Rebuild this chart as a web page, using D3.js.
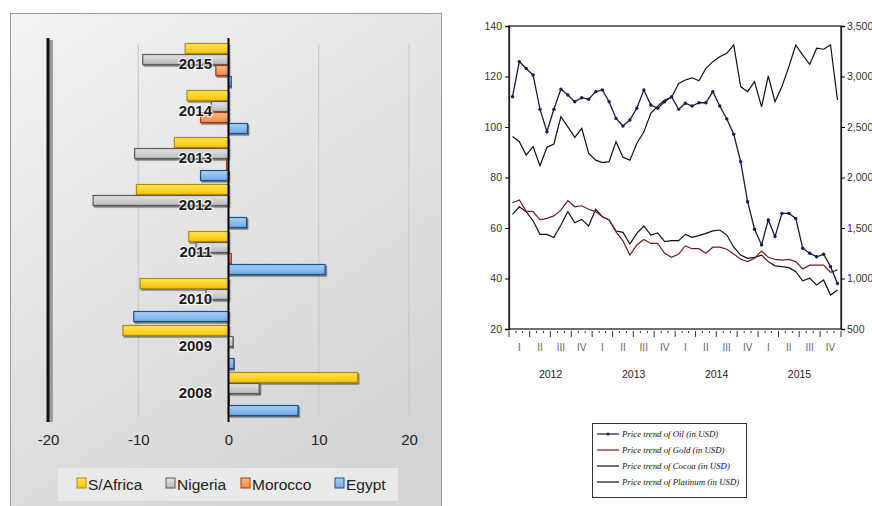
<!DOCTYPE html>
<html><head><meta charset="utf-8">
<script src="https://cdn.jsdelivr.net/npm/d3@7"></script>
<style>
body{margin:0;background:#fff;}
svg{display:block;}
</style></head>
<body><svg id="c" width="872" height="506"></svg>
<script>
// ---- GDP growth by country (left panel) ----
const years = ["2015","2014","2013","2012","2011","2010","2009","2008"];
const countries = ["S/Africa","Nigeria","Morocco","Egypt"];
const sAfrica = [-4.8,-4.6,-6.0,-10.2,-4.4,-9.8,-11.7,14.3];
const nigeria = [-9.5,-1.9,-10.4,-15.0,-3.6,-2.5,0.5,3.4];
const morocco = [-1.4,-3.1,-0.2,0,0.3,0,0,0.1];
const egypt   = [0.3,2.1,-3.1,2.0,10.7,-10.5,0.6,7.7];
const growthTicks = [-20,-10,0,10,20];

// ---- Commodity prices, monthly Jan 2012 - Dec 2015 (right panel) ----
const oil = [112,125.9,123.2,120.6,107,98.1,107,115,112.7,110,111.6,111,
  114,114.7,110,103.4,100.4,102.8,107.4,114.7,108.7,107.4,110,112,
  107,109.4,108.3,109.6,109.6,114,108.3,103.2,97.1,86.3,70.4,59.5,
  53.3,63.2,56.6,65.8,65.8,63.8,52,50,48.6,49.6,44.7,38];
const gold = [1750,1777,1667,1662,1580,1595,1620,1677,1770,1710,1720,1685,
  1662,1612,1580,1462,1372,1232,1332,1387,1347,1347,1250,1210,
  1242,1322,1295,1295,1250,1310,1310,1290,1242,1190,1167,1200,
  1272,1210,1190,1182,1190,1167,1095,1132,1132,1132,1062,1085];
const cocoa = [2405,2355,2222,2305,2117,2300,2332,2602,2502,2397,2487,2240,
  2172,2147,2157,2355,2200,2172,2337,2452,2635,2707,2767,2795,
  2932,2965,2987,2957,3080,3147,3195,3230,3312,2900,2850,2950,
  2700,3005,2750,2900,3097,3312,3212,3120,3280,3270,3312,2767];
const platinum = [1635,1710,1662,1572,1437,1437,1405,1530,1662,1552,1585,1520,
  1685,1612,1580,1470,1457,1342,1447,1520,1430,1452,1365,1375,
  1375,1437,1407,1425,1447,1472,1480,1430,1310,1232,1200,1210,
  1232,1167,1125,1117,1107,1067,977,1002,935,985,837,887];
const leftTicks = [20,40,60,80,100,120,140];
const rightTicks = [500,1000,1500,2000,2500,3000,3500];
const quarterLabels = ["I","II","III","IV"];
const priceYears = [2012,2013,2014,2015];
const legendLabels = ["Price trend of Oil (in USD)","Price trend of Gold (in USD)",
  "Price trend of Cocoa (in USD)","Price trend of Platinum (in USD)"];

const svg = d3.select("#c");
const defs = svg.append("defs");

// ================= left panel =================
const bg = defs.append("linearGradient").attr("id","bg")
  .attr("x1","0").attr("y1","0").attr("x2","0.6").attr("y2","1");
bg.append("stop").attr("offset","0").attr("stop-color","#f3f3f3");
bg.append("stop").attr("offset","1").attr("stop-color","#d4d4d4");

const sh = defs.append("filter").attr("id","sh").attr("x","-10%").attr("y","-30%").attr("width","130%").attr("height","180%");
sh.append("feDropShadow").attr("dx",1.2).attr("dy",1.5).attr("stdDeviation",0.6)
  .attr("flood-color","#000").attr("flood-opacity",0.55);

const barColors = [
  {fill0:"#ffe75a", fill1:"#f5c400", stroke:"#b38b00"},
  {fill0:"#e4e4e4", fill1:"#b9b9b9", stroke:"#5a5a5a"},
  {fill0:"#fbbb8a", fill1:"#ef8a43", stroke:"#a33a12"},
  {fill0:"#a9d2f6", fill1:"#6ea9e3", stroke:"#1f4f96"}
];
barColors.forEach((c,i)=>{
  const g = defs.append("linearGradient").attr("id","bar"+i).attr("x1",0).attr("y1",0).attr("x2",0).attr("y2",1);
  g.append("stop").attr("offset","0").attr("stop-color",c.fill0);
  g.append("stop").attr("offset","1").attr("stop-color",c.fill1);
});

const L = svg.append("g");
L.append("rect").attr("x",10.5).attr("y",13.5).attr("width",431).attr("height",500)
  .attr("fill","url(#bg)").attr("stroke","#9a9a9a").attr("stroke-width",1);

const gx = d3.scaleLinear().domain([-20,20]).range([48,409]);
const gy = d3.scaleBand().domain(years).range([41.5,417.5]).paddingInner(0.064).paddingOuter(0.032);
const gsub = d3.scaleBand().domain(countries).range([0, gy.bandwidth()]);
const plotTop = 38, plotBot = 422;

// gridlines
L.append("g").selectAll("line").data(growthTicks.filter(d=>d!==0 && d!==-20)).join("line")
  .attr("x1",d=>gx(d)).attr("x2",d=>gx(d)).attr("y1",44).attr("y2",416)
  .attr("stroke","#c4c4c4").attr("stroke-width",1);

// heavy left edge at -20
L.append("rect").attr("x",gx(-20)+1).attr("y",plotTop+2).attr("width",4).attr("height",plotBot-plotTop-2).attr("fill","#9c9c9c");
L.append("rect").attr("x",gx(-20)-1.5).attr("y",plotTop).attr("width",3).attr("height",plotBot-plotTop).attr("fill","#111");

const series = [sAfrica, nigeria, morocco, egypt];
const bars = L.append("g");
series.forEach((vals,si)=>{
  bars.append("g").selectAll("rect").data(vals).join("rect")
    .attr("x",d=>Math.min(gx(0),gx(d)))
    .attr("width",d=>Math.abs(gx(d)-gx(0)))
    .attr("y",(d,i)=>gy(years[i])+gsub(countries[si])+0.5)
    .attr("height",gsub.bandwidth()-1)
    .attr("fill","url(#bar"+si+")")
    .attr("stroke",barColors[si].stroke).attr("stroke-width",1.2)
    .attr("filter","url(#sh)");
});

// zero axis
L.append("line").attr("x1",gx(0)).attr("x2",gx(0)).attr("y1",plotTop).attr("y2",plotBot)
  .attr("stroke","#000").attr("stroke-width",2);

// category labels
L.append("g").selectAll("text").data(years).join("text")
  .attr("x",212).attr("y",d=>gy(d)+gy.bandwidth()/2-2)
  .attr("text-anchor","end").attr("dominant-baseline","central")
  .attr("font-family","Liberation Sans, Arial, sans-serif").attr("font-size",15).attr("font-weight","bold")
  .attr("fill","#1a1a1a").attr("stroke","#fff").attr("stroke-width",2.5).attr("stroke-opacity",0.7)
  .attr("paint-order","stroke").text(d=>d);

// value axis labels
L.append("g").attr("transform",`translate(0,${plotBot})`)
  .call(d3.axisBottom(gx).tickValues(growthTicks).tickSize(0).tickPadding(12).tickFormat(d=>String(d)))
  .call(g=>g.select(".domain").remove())
  .call(g=>g.selectAll("text").attr("font-family","Liberation Sans, Arial, sans-serif")
    .attr("font-size",15).attr("fill","#222"));

// legend
const lg = L.append("g");
lg.append("rect").attr("x",58).attr("y",468).attr("width",340).attr("height",33).attr("fill","#e9e9e9");
const legX = [77,166,241,335];
countries.forEach((c,i)=>{
  lg.append("rect").attr("x",legX[i]).attr("y",478).attr("width",9).attr("height",10)
    .attr("fill","url(#bar"+i+")").attr("stroke",barColors[i].stroke).attr("stroke-width",1);
  lg.append("text").attr("x",legX[i]+11).attr("y",484).attr("dominant-baseline","central")
    .attr("font-family","Liberation Sans, Arial, sans-serif").attr("font-size",15.5).attr("fill","#222").text(c);
});

// ================= right panel =================
const R = svg.append("g");
const px0 = 509, px1 = 841, pyTop = 26, pyBot = 329;
const tx = d3.scaleTime().domain([new Date(2012,0,1), new Date(2016,0,1)]).range([px0,px1]);
const yL = d3.scaleLinear().domain([20,140]).range([pyBot,pyTop]);
const yR = d3.scaleLinear().domain([500,3500]).range([pyBot,pyTop]);
const mid = i => (tx(new Date(2012,i,1)) + tx(new Date(2012,i+1,1)))/2;

const narrow = "Liberation Sans Narrow, Arial Narrow, Liberation Sans, sans-serif";

// frame
R.append("rect").attr("x",px0).attr("y",pyTop).attr("width",px1-px0).attr("height",pyBot-pyTop)
  .attr("fill","none").attr("stroke","#222").attr("stroke-width",1.3);

R.append("g").attr("transform",`translate(${px0},0)`)
  .call(d3.axisLeft(yL).tickValues(leftTicks).tickSize(4).tickPadding(3).tickFormat(d3.format("d")))
  .call(g=>g.select(".domain").attr("stroke","#222").attr("stroke-width",1.3))
  .call(g=>g.selectAll("text").attr("font-family",narrow).attr("font-size",10.5).attr("fill","#333"));

R.append("g").attr("transform",`translate(${px1},0)`)
  .call(d3.axisRight(yR).tickValues(rightTicks).tickSize(4).tickPadding(2).tickFormat(d3.format(",")))
  .call(g=>g.select(".domain").attr("stroke","#222").attr("stroke-width",1.3))
  .call(g=>g.selectAll("text").attr("font-family",narrow).attr("font-size",10.5).attr("fill","#333"));

// month ticks (quarters longer)
const tickDates = d3.range(49).map(i=>new Date(2012,i,1));
R.append("g").selectAll("line").data(tickDates).join("line")
  .attr("x1",d=>tx(d)).attr("x2",d=>tx(d))
  .attr("y1",pyBot+2).attr("y2",d=>pyBot + (d.getMonth()%3===0 ? 8 : 4))
  .attr("stroke","#333").attr("stroke-width",1);

// quarter and year labels
const quarters = d3.range(16);
R.append("g").selectAll("text").data(quarters).join("text")
  .attr("x",q=>(tx(new Date(2012,q*3,1))+tx(new Date(2012,q*3+3,1)))/2)
  .attr("y",347).attr("text-anchor","middle").attr("dominant-baseline","central")
  .attr("font-family",narrow).attr("font-size",10).attr("fill","#666")
  .text(q=>quarterLabels[q%4]);
R.append("g").selectAll("text").data(priceYears).join("text")
  .attr("x",y=>(tx(new Date(y,0,1))+tx(new Date(y+1,0,1)))/2)
  .attr("y",374).attr("text-anchor","middle").attr("dominant-baseline","central")
  .attr("font-family",narrow).attr("font-size",10.5).attr("fill","#222")
  .text(y=>y);

// price lines
const lineL = d3.line().x((d,i)=>mid(i)).y(d=>yL(d));
const lineR = d3.line().x((d,i)=>mid(i)).y(d=>yR(d));
R.append("path").datum(cocoa).attr("d",lineR).attr("fill","none").attr("stroke","#111").attr("stroke-width",1.2);
R.append("path").datum(platinum).attr("d",lineR).attr("fill","none").attr("stroke","#111").attr("stroke-width",1.2);
R.append("path").datum(gold).attr("d",lineR).attr("fill","none").attr("stroke","#7a1c1c").attr("stroke-width",1.2);
R.append("path").datum(oil).attr("d",lineL).attr("fill","none").attr("stroke","#1a1a3c").attr("stroke-width",1.3);
R.append("g").selectAll("circle").data(oil).join("circle")
  .attr("cx",(d,i)=>mid(i)).attr("cy",d=>yL(d)).attr("r",1.7).attr("fill","#151a5a");

// legend
const RL = R.append("g");
RL.append("rect").attr("x",592.5).attr("y",423.5).attr("width",154).attr("height",74)
  .attr("fill","#fff").attr("stroke","#333").attr("stroke-width",1);
const legStroke = ["#1a1a3c","#7a1c1c","#111","#111"];
legendLabels.forEach((t,i)=>{
  const y = 434 + i*16;
  RL.append("line").attr("x1",597).attr("x2",619).attr("y1",y).attr("y2",y)
    .attr("stroke",legStroke[i]).attr("stroke-width",1.2);
  if(i===0) RL.append("circle").attr("cx",608).attr("cy",y).attr("r",1.5).attr("fill","#151a5a");
  RL.append("text").attr("x",622).attr("y",y).attr("dominant-baseline","central")
    .attr("font-family","Liberation Serif, serif").attr("font-style","italic")
    .attr("font-size",8.8).attr("fill","#111").text(t);
});
</script>
</body></html>
